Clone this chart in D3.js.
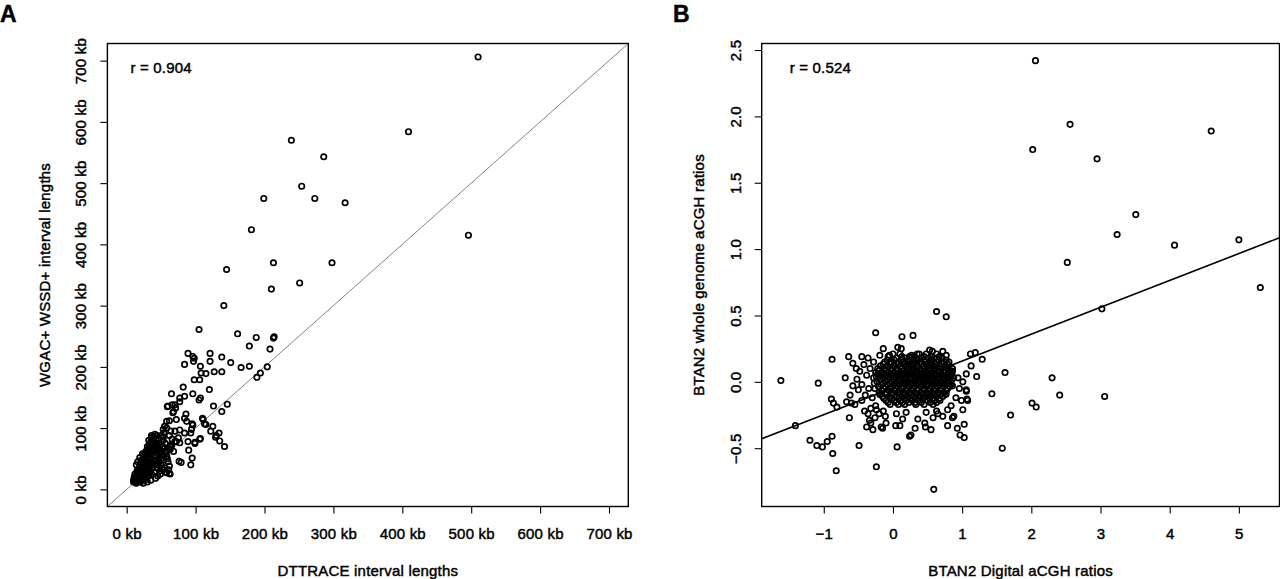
<!DOCTYPE html>
<html><head><meta charset="utf-8">
<script src="https://cdn.jsdelivr.net/npm/d3@7"></script>
<style>
body{margin:0;background:#fff}
svg{display:block}
text{font-family:"Liberation Sans",Arial,Helvetica,sans-serif;fill:#000;stroke:#000;stroke-width:0.45px;letter-spacing:0.2px}
</style>
</head><body>
<svg id="chart" width="1280" height="579"></svg>
<script>
// ---------------- DATA ----------------
const panelLetters = ["A", "B"];
const aTitleX = "DTTRACE interval lengths";
const aTitleY = "WGAC+ WSSD+ interval lengths";
const bTitleX = "BTAN2 Digital aCGH ratios";
const bTitleY = "BTAN2 whole genome aCGH ratios";
const aCorr = "r = 0.904";
const bCorr = "r = 0.524";

const aTicks = [0, 100, 200, 300, 400, 500, 600, 700];      // kb, both axes
const aLimits = [0, 700];
const bXTicks = [-1, 0, 1, 2, 3, 4, 5];
const bYTicks = [-0.5, 0, 0.5, 1, 1.5, 2, 2.5];
const bFit = { intercept: -0.045, slope: 0.2023 };

// panel A: [DTTRACE kb, WGAC+WSSD kb]
const aOutliers = [
  [510,706],[409,584],[239,570],[286,543],[254,495],[199,475],[273,475],[317,468],
  [181,424],[496,415],[145,359],[213,370],[298,370],[210,327],[251,337],[141,300]
];
const aMid = [
  [105,261],[161,254],[188,248],[213,247],[214,249],[178,234],[208,229],[89,222],
  [121,222],[96,217],[98,214],[138,216],[84,204],[97,209],[107,201],[121,209],
  [151,207],[166,199],[178,201],[204,200],[189,183],[194,190],[127,192],[138,192],
  [115,189],[108,190],[106,179],[98,179],[120,163],[82,167],[65,156],[77,149],
  [84,152],[105,146],[107,149],[96,156],[126,136],[146,139],[138,127],[59,135],
  [66,138],[71,133],[68,127],[110,116],[113,107],[86,123],[84,116],[125,103],
  [134,92],[129,85],[107,83],[142,70],[93,92],[96,105],[55,103],[62,112],
  [70,95],[75,84],[53,86],[77,76],[89,78],[99,75],[63,70],[135,79],[130,88],
  [60,136],[70,138],[77,143],[58,111],[53,98],[67,125],[72,114],[87,111],
  [95,107],[94,98],[111,114],[122,95],[77,97],[84,92],[99,77],[106,82],
  [90,64],[95,51],[93,40],[76,46],[65,73],[72,78],[63,65],[55,68],[58,27],
  [53,32],[62,26],[79,44],[115,106]
];
const aCluster = [
  [12,12],[14,10],[15,14],[13,18],[16,20],[18,15],[20,12],[22,18],[19,24],[17,28],
  [21,30],[24,25],[26,20],[28,16],[25,32],[23,38],[27,35],[30,28],[32,22],[34,30],
  [29,42],[31,45],[33,38],[35,50],[36,42],[38,35],[40,28],[37,58],[39,62],[41,55],
  [43,48],[45,40],[42,70],[44,75],[46,65],[48,58],[50,50],[38,80],[40,85],[36,72],
  [34,68],[47,82],[52,70],[55,62],[58,55],[60,45],[62,38],[57,28],[63,25],[55,35],
  [50,40],[48,30],[45,22],[42,18],[35,15],[30,12],[24,10],[18,22],[20,35],[22,42],
  [26,48],[28,55],[31,60],[33,65],[35,78],[37,85],[39,70],[44,60],[53,80],[56,75],
  [60,68],[65,72],[68,62],[70,78],[66,82],[25,45],[27,52],[15,30],[12,25],[10,15],
  [11,20],[14,40],[16,45],[19,52],[21,48],[23,58],[30,70],[32,80],[62,88],[64,95],
  [58,100],[54,92],[50,88],[11,13],[13,11],[16,16],[19,19],[22,23],[25,27],[28,31],
  [13,15],[15,12],[17,17],[14,22],[18,26],[20,20],[23,15],[25,22],[27,28],[24,30],
  [22,34],[26,40],[29,36],[31,32],[33,27],[36,25],[38,40],[35,45],[32,50],[30,55],
  [34,58],[36,62],[40,48],[42,42],[44,35],[46,50],[41,65],[43,80],[39,75],[45,70],
  [48,72],[50,62],[52,55],[54,48],[47,45],[51,35],[49,25],[20,40],[18,35],[16,32],
  [21,44],[24,50],[28,62],[26,58],[33,72],[37,76],[31,66],[41,90],[44,88],[36,88],
  [53,66],[57,60],[59,50],[61,32],[12,16],[10,12],[16,24],[25,18],[29,22]
];

// panel B: [digital aCGH ratio, whole genome aCGH ratio]
const bOutliers = [
  [2.06,2.42],[2.56,1.94],[2.02,1.75],[4.60,1.89],[2.95,1.68],[3.51,1.26],[3.24,1.11],
  [4.07,1.03],[5.00,1.07],[2.52,0.90],[5.31,0.71],[3.02,0.55],[0.63,0.53],[0.77,0.49],
  [-0.25,0.37],[0.13,0.34],[0.29,0.35],[1.29,0.17],[1.19,0.22],[1.12,0.21],[1.21,0.04],
  [1.62,0.07],[2.30,0.03],[1.43,-0.09],[2.41,-0.10],[3.06,-0.11],[2.01,-0.16],[2.07,-0.19],
  [1.70,-0.25],[1.58,-0.50],[-1.62,0.01],[-1.08,-0.01],[-0.88,0.17],[-0.89,-0.13],
  [-0.81,-0.19],[-1.41,-0.33],[-1.20,-0.44],[-1.10,-0.48],[-1.02,-0.49],[-0.95,-0.45],
  [-0.88,-0.41],[-0.87,-0.54],[-0.82,-0.67],[-0.49,-0.48],[-0.24,-0.64],[0.06,-0.49],
  [0.59,-0.81]
];
const bRing = [
  [-0.63,-0.27],[-0.69,0.03],[-0.64,0.19],[-0.45,0.19],[0.26,-0.40],[0.32,-0.35],
  [0.55,-0.36],[0.79,-0.33],[0.93,-0.35],[1.03,-0.32],[0.97,-0.40],[1.03,-0.42],
  [1.07,-0.13],[1.06,-0.06],[0.88,-0.26],[0.04,-0.33],[-0.15,-0.35],[-0.32,-0.31],
  [-0.11,-0.26],[-0.58,0.14],[-0.53,0.10],[-0.86,-0.16],[-0.67,-0.15],[-0.60,-0.16],
  [-0.55,-0.17],[0.24,-0.41],[0.47,-0.34],
  [-0.38,-0.34],[-0.34,-0.29],[-0.29,-0.36],[-0.17,-0.34],[-0.36,-0.24],[-0.41,-0.22],
  [-0.26,-0.27],[-0.10,-0.31],[0.14,-0.28],[0.10,-0.33],[0.19,-0.23],[0.36,-0.28],
  [0.46,-0.31],[0.58,-0.27],[0.65,-0.24],[0.72,-0.26],[0.86,-0.27],[0.79,-0.21],
  [0.63,-0.22],[0.48,-0.23],[0.05,-0.24],[-0.14,-0.22],[-0.24,-0.21],
  [0.86,0.08],[0.94,0.03],[1.01,0.00],[0.96,-0.05],[1.06,-0.07],[0.91,-0.12],
  [0.99,-0.14],[1.08,-0.14],[1.06,0.06],[1.13,0.12],[0.86,-0.03],[0.77,-0.09],
  [0.84,-0.18],[1.01,-0.21],
  [-0.14,0.25],[0.07,0.26],[0.12,0.25],[0.53,0.24],[0.72,0.23],[0.77,0.20],
  [0.38,0.21],[0.27,0.20],[-0.05,0.20],[-0.19,0.20],[0.57,0.23],
  [-0.48,0.08],[-0.42,0.13],[-0.38,0.05],[-0.52,0.02],[-0.45,-0.02],[-0.35,-0.05],
  [-0.40,-0.10],[-0.30,-0.12],[-0.33,0.10],[-0.28,0.15],[-0.36,0.18],[-0.25,-0.18],
  [-0.32,-0.20],[-0.45,-0.14],[-0.50,-0.06],[-0.58,-0.03],[-0.62,-0.10],[-0.20,-0.24]
];
const bCore = [
  [0.05,0.18],[0.18,0.18],[0.27,0.18],[0.41,0.18],[0.52,0.18],[0.60,0.18],[0.71,0.18],
  [-0.12,0.15],[-0.03,0.15],[0.08,0.15],[0.15,0.15],[0.22,0.15],[0.33,0.15],[0.39,0.15],
  [0.47,0.15],[0.56,0.15],[0.63,0.15],[0.74,0.15],[0.81,0.15],
  [-0.18,0.12],[-0.08,0.12],[0.01,0.12],[0.11,0.12],[0.19,0.12],[0.26,0.12],[0.35,0.12],
  [0.44,0.12],[0.50,0.12],[0.59,0.12],[0.67,0.12],[0.76,0.12],
  [-0.22,0.10],[-0.13,0.10],[-0.04,0.10],[0.05,0.10],[0.13,0.10],[0.23,0.10],[0.30,0.10],
  [0.38,0.10],[0.46,0.10],[0.55,0.10],[0.62,0.10],[0.70,0.10],[0.79,0.10],[0.86,0.10],
  [-0.25,0.07],[-0.16,0.07],[-0.06,0.07],[0.02,0.07],[0.09,0.07],[0.17,0.07],[0.25,0.07],
  [0.33,0.07],[0.42,0.07],[0.49,0.07],[0.57,0.07],[0.66,0.07],[0.73,0.07],[0.82,0.07],
  [-0.19,0.05],[-0.10,0.05],[-0.01,0.05],[0.07,0.05],[0.14,0.05],[0.21,0.05],[0.29,0.05],
  [0.37,0.05],[0.45,0.05],[0.52,0.05],[0.61,0.05],[0.69,0.05],[0.77,0.05],
  [-0.28,0.03],[-0.14,0.03],[-0.05,0.03],[0.04,0.03],[0.12,0.03],[0.19,0.03],[0.27,0.03],
  [0.35,0.03],[0.40,0.03],[0.48,0.03],[0.58,0.03],[0.64,0.03],[0.72,0.03],[0.80,0.03],[0.88,0.03],
  [-0.23,0.00],[-0.11,0.00],[-0.02,0.00],[0.06,0.00],[0.15,0.00],[0.22,0.00],[0.31,0.00],
  [0.38,0.00],[0.47,0.00],[0.54,0.00],[0.62,0.00],[0.70,0.00],[0.78,0.00],
  [-0.17,-0.02],[-0.08,-0.02],[0.01,-0.02],[0.10,-0.02],[0.18,-0.02],[0.26,-0.02],[0.34,-0.02],
  [0.43,-0.02],[0.51,-0.02],[0.59,-0.02],[0.67,-0.02],[0.75,-0.02],[0.84,-0.02],
  [-0.26,-0.05],[-0.13,-0.05],[-0.04,-0.05],[0.04,-0.05],[0.13,-0.05],[0.20,-0.05],[0.29,-0.05],
  [0.36,-0.05],[0.44,-0.05],[0.53,-0.05],[0.61,-0.05],[0.71,-0.05],[0.79,-0.05],
  [-0.20,-0.08],[-0.09,-0.08],[0.00,-0.08],[0.08,-0.08],[0.16,-0.08],[0.24,-0.08],[0.32,-0.08],
  [0.41,-0.08],[0.49,-0.08],[0.57,-0.08],[0.65,-0.08],[0.74,-0.08],
  [-0.15,-0.11],[-0.05,-0.11],[0.05,-0.11],[0.12,-0.11],[0.21,-0.11],[0.30,-0.11],[0.39,-0.11],
  [0.46,-0.11],[0.55,-0.11],[0.63,-0.11],[0.72,-0.11],
  [-0.10,-0.14],[0.02,-0.14],[0.11,-0.14],[0.19,-0.14],[0.28,-0.14],[0.37,-0.14],[0.50,-0.14],
  [0.60,-0.14],[0.68,-0.14],
  [-0.04,-0.17],[0.08,-0.17],[0.17,-0.17],[0.33,-0.17],[0.45,-0.17],[0.58,-0.17],
  [0.00,0.21],[0.10,0.21],[0.35,0.21],[0.48,0.21],[0.63,0.21],
  [-0.08,0.165],[0.02,0.165],[0.12,0.165],[0.22,0.165],[0.30,0.165],[0.36,0.165],[0.45,0.165],
  [0.55,0.165],[0.66,0.165],[0.77,0.165],
  [-0.14,0.135],[-0.04,0.135],[0.05,0.135],[0.15,0.135],[0.23,0.135],[0.30,0.135],[0.41,0.135],
  [0.48,0.135],[0.54,0.135],[0.62,0.135],[0.71,0.135],[0.79,0.135],
  [-0.20,0.085],[-0.10,0.085],[-0.01,0.085],[0.07,0.085],[0.16,0.085],[0.26,0.085],[0.34,0.085],
  [0.41,0.085],[0.51,0.085],[0.59,0.085],[0.66,0.085],[0.75,0.085],[0.83,0.085],
  [-0.22,0.06],[-0.13,0.06],[-0.03,0.06],[0.05,0.06],[0.12,0.06],[0.20,0.06],[0.28,0.06],
  [0.36,0.06],[0.44,0.06],[0.53,0.06],[0.61,0.06],[0.70,0.06],[0.79,0.06],[0.85,0.06],
  [-0.24,0.04],[-0.07,0.04],[0.02,0.04],[0.10,0.04],[0.17,0.04],[0.25,0.04],[0.32,0.04],
  [0.43,0.04],[0.50,0.04],[0.56,0.04],[0.66,0.04],[0.74,0.04],[0.83,0.04],
  [-0.18,0.015],[-0.08,0.015],[0.01,0.015],[0.09,0.015],[0.17,0.015],[0.25,0.015],[0.34,0.015],
  [0.43,0.015],[0.51,0.015],[0.58,0.015],[0.67,0.015],[0.75,0.015],[0.85,0.015],
  [-0.27,-0.01],[-0.14,-0.01],[-0.05,-0.01],[0.03,-0.01],[0.13,-0.01],[0.20,-0.01],[0.28,-0.01],
  [0.36,-0.01],[0.45,-0.01],[0.56,-0.01],[0.64,-0.01],[0.73,-0.01],[0.81,-0.01],
  [-0.21,-0.035],[-0.11,-0.035],[-0.02,-0.035],[0.07,-0.035],[0.15,-0.035],[0.23,-0.035],
  [0.31,-0.035],[0.40,-0.035],[0.48,-0.035],[0.56,-0.035],[0.64,-0.035],[0.73,-0.035],[0.82,-0.035],
  [-0.16,-0.065],[-0.06,-0.065],[0.02,-0.065],[0.10,-0.065],[0.18,-0.065],[0.27,-0.065],
  [0.35,-0.065],[0.45,-0.065],[0.51,-0.065],[0.60,-0.065],[0.69,-0.065],[0.77,-0.065],
  [-0.19,-0.095],[-0.10,-0.095],[-0.01,-0.095],[0.09,-0.095],[0.17,-0.095],[0.26,-0.095],
  [0.34,-0.095],[0.43,-0.095],[0.51,-0.095],[0.59,-0.095],[0.68,-0.095],[0.76,-0.095],
  [-0.13,-0.125],[-0.02,-0.125],[0.08,-0.125],[0.16,-0.125],[0.25,-0.125],[0.33,-0.125],
  [0.43,-0.125],[0.53,-0.125],[0.58,-0.125],[0.67,-0.125],
  [-0.07,-0.155],[0.05,-0.155],[0.14,-0.155],[0.23,-0.155],[0.32,-0.155],[0.41,-0.155],
  [0.54,-0.155],[0.63,-0.155],
  [-0.07,0.19],[0.13,0.19],[0.24,0.19],[0.31,0.19],[0.45,0.19],[0.56,0.19],[0.67,0.19]
];

// ---------------- LAYOUT ----------------
const svg = d3.select("#chart");
svg.append("rect").attr("width",1280).attr("height",579).attr("fill","#fff");
const yTop = 43.5, yBot = 506.5;
const PA = { x0: 107.4, x1: 628.3 };
const PB = { x0: 761.7, x1: 1279.5 };
const FS = 15;
const R = 2.7, SW = 1.7;
const ext = ([lo, hi]) => { const d = (hi - lo) * 0.04; return [lo - d, hi + d]; };
const fmtMinus = s => s.replace("-", "\u2212");

function panel(P, xDom, yDom, xTicks, yTicks, xFmt, yFmt, titleX, titleY, corr, corrDx, letter, letterX) {
  const x = d3.scaleLinear().domain(xDom).range([P.x0, P.x1]);
  const y = d3.scaleLinear().domain(yDom).range([yBot, yTop]);
  const g = svg.append("g");

  const xa = g.append("g").attr("transform", `translate(0,${yBot})`)
    .call(d3.axisBottom(x).tickValues(xTicks).tickSize(7).tickSizeOuter(0).tickPadding(15).tickFormat(xFmt));
  xa.select(".domain").remove();
  xa.attr("font-family", null).attr("font-size", null);
  xa.selectAll("line").attr("stroke", "#000").attr("stroke-width", 1.1);
  xa.selectAll("text").attr("font-size", FS).attr("fill", "#000");

  const ya = g.append("g").attr("transform", `translate(${P.x0},0)`)
    .call(d3.axisLeft(y).tickValues(yTicks).tickSize(7).tickSizeOuter(0).tickFormat(yFmt));
  ya.select(".domain").remove();
  ya.attr("font-family", null).attr("font-size", null);
  ya.selectAll("line").attr("stroke", "#000").attr("stroke-width", 1.1);
  ya.selectAll("text").attr("font-size", FS).attr("fill", "#000")
    .attr("transform", "rotate(-90)").attr("x", 0).attr("y", -21).attr("dy", 0)
    .attr("text-anchor", "middle");

  g.append("rect").attr("x", P.x0).attr("y", yTop).attr("width", P.x1 - P.x0).attr("height", yBot - yTop)
    .attr("fill", "none").attr("stroke", "#000").attr("stroke-width", 1.4);

  g.append("text").attr("x", (P.x0 + P.x1) / 2).attr("y", 575.5).attr("text-anchor", "middle")
    .attr("font-size", FS).text(titleX);
  g.append("text").attr("transform", `translate(${P.x0 - 57.5},${(yTop + yBot) / 2}) rotate(-90)`)
    .attr("text-anchor", "middle").attr("font-size", FS).text(titleY);
  g.append("text").attr("x", P.x0 + corrDx).attr("y", 72.5).attr("font-size", FS).text(corr);
  svg.append("text").attr("x", letterX).attr("y", 22).attr("font-size", 23).attr("font-weight", "bold").text(letter);

  const clip = "clip" + letter;
  svg.append("clipPath").attr("id", clip).append("rect")
    .attr("x", P.x0).attr("y", yTop).attr("width", P.x1 - P.x0).attr("height", yBot - yTop);
  return { x, y, g, clip };
}

// Panel A
const aDom = ext(aLimits);
const pa = panel(PA, aDom, aDom, aTicks, aTicks, d => d + " kb", d => d + " kb",
  aTitleX, aTitleY, aCorr, 23, panelLetters[0], 0);
pa.g.append("line").attr("clip-path", `url(#${pa.clip})`)
  .attr("x1", pa.x(aDom[0])).attr("y1", pa.y(aDom[0]))
  .attr("x2", pa.x(aDom[1])).attr("y2", pa.y(aDom[1]))
  .attr("stroke", "#777").attr("stroke-width", 0.9);
const aAll = aCluster.concat(aMid, aOutliers);
pa.g.append("g").selectAll("circle").data(aAll).join("circle")
  .attr("cx", d => pa.x(d[0])).attr("cy", d => pa.y(d[1])).attr("r", R)
  .attr("fill", "none").attr("stroke", "#000").attr("stroke-width", SW);

// Panel B
const bAll = bCore.concat(bRing, bOutliers);
const bx = ext(d3.extent(bAll, d => d[0]));
const by = ext(d3.extent(bAll, d => d[1]));
const pb = panel(PB, bx, by, bXTicks, bYTicks, d => fmtMinus(d3.format("d")(d)), d => fmtMinus(d3.format(".1f")(d)),
  bTitleX, bTitleY, bCorr, 28, panelLetters[1], 673);
pb.g.append("g").selectAll("circle").data(bAll).join("circle")
  .attr("cx", d => pb.x(d[0])).attr("cy", d => pb.y(d[1])).attr("r", R)
  .attr("fill", "none").attr("stroke", "#000").attr("stroke-width", SW);
pb.g.append("line").attr("clip-path", `url(#${pb.clip})`)
  .attr("x1", pb.x(bx[0])).attr("y1", pb.y(bFit.intercept + bFit.slope * bx[0]))
  .attr("x2", pb.x(bx[1])).attr("y2", pb.y(bFit.intercept + bFit.slope * bx[1]))
  .attr("stroke", "#000").attr("stroke-width", 1.6);
</script>
</body></html>
